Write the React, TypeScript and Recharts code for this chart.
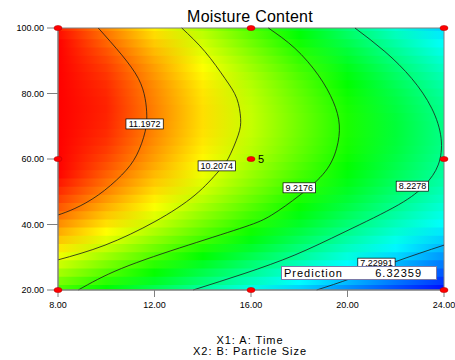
import { ComposedChart, XAxis, YAxis, Line, Scatter, ReferenceArea } from "recharts";

const FONT = "'Liberation Sans', Arial, sans-serif";

const TIME_TICKS = [8, 12, 16, 20, 24];
const SIZE_TICKS = [20, 40, 60, 80, 100];

// moisture content: one row per particle size, one column per time
const GRID_TIME = [8, 10, 12, 14, 16, 18, 20, 22, 24];
const GRID_SIZE = [
  100, 97.5, 95, 92.5, 90, 87.5, 85, 82.5, 80, 77.5, 75, 72.5, 70, 67.5, 65, 62.5, 60,
  57.5, 55, 52.5, 50, 47.5, 45, 42.5, 40, 37.5, 35, 32.5, 30, 27.5, 25, 22.5, 20,
];
const GRID_MOISTURE = [
  [11.71, 11.11, 10.52, 9.95, 9.39, 8.84, 8.31, 7.79, 7.29],
  [11.81, 11.22, 10.63, 10.07, 9.51, 8.97, 8.44, 7.93, 7.43],
  [11.9, 11.31, 10.73, 10.17, 9.62, 9.08, 8.56, 8.05, 7.56],
  [11.98, 11.4, 10.82, 10.26, 9.72, 9.19, 8.67, 8.16, 7.67],
  [12.05, 11.47, 10.9, 10.35, 9.81, 9.28, 8.76, 8.26, 7.78],
  [12.11, 11.53, 10.97, 10.42, 9.88, 9.36, 8.85, 8.35, 7.87],
  [12.16, 11.58, 11.02, 10.48, 9.95, 9.43, 8.92, 8.43, 7.96],
  [12.19, 11.62, 11.07, 10.53, 10.0, 9.49, 8.99, 8.5, 8.03],
  [12.22, 11.65, 11.1, 10.57, 10.04, 9.53, 9.04, 8.56, 8.09],
  [12.23, 11.67, 11.12, 10.59, 10.07, 9.57, 9.08, 8.6, 8.14],
  [12.23, 11.68, 11.14, 10.61, 10.09, 9.59, 9.11, 8.63, 8.18],
  [12.22, 11.67, 11.14, 10.61, 10.1, 9.61, 9.13, 8.66, 8.2],
  [12.2, 11.66, 11.12, 10.61, 10.1, 9.61, 9.13, 8.67, 8.22],
  [12.17, 11.63, 11.1, 10.59, 10.09, 9.6, 9.13, 8.67, 8.22],
  [12.13, 11.59, 11.07, 10.56, 10.06, 9.58, 9.11, 8.66, 8.22],
  [12.08, 11.54, 11.02, 10.52, 10.03, 9.55, 9.09, 8.64, 8.2],
  [12.01, 11.48, 10.97, 10.47, 9.98, 9.51, 9.05, 8.6, 8.17],
  [11.93, 11.41, 10.9, 10.4, 9.92, 9.45, 9.0, 8.56, 8.13],
  [11.85, 11.33, 10.82, 10.33, 9.85, 9.39, 8.94, 8.5, 8.08],
  [11.75, 11.23, 10.73, 10.25, 9.77, 9.31, 8.87, 8.44, 8.02],
  [11.64, 11.13, 10.63, 10.15, 9.68, 9.23, 8.78, 8.36, 7.94],
  [11.52, 11.01, 10.52, 10.04, 9.58, 9.13, 8.69, 8.27, 7.86],
  [11.39, 10.88, 10.4, 9.92, 9.46, 9.02, 8.59, 8.17, 7.76],
  [11.24, 10.75, 10.26, 9.79, 9.34, 8.9, 8.47, 8.06, 7.66],
  [11.09, 10.6, 10.12, 9.65, 9.2, 8.77, 8.34, 7.93, 7.54],
  [10.92, 10.43, 9.96, 9.5, 9.06, 8.62, 8.2, 7.8, 7.41],
  [10.75, 10.26, 9.79, 9.34, 8.9, 8.47, 8.05, 7.65, 7.27],
  [10.56, 10.08, 9.61, 9.16, 8.73, 8.3, 7.89, 7.5, 7.12],
  [10.36, 9.88, 9.42, 8.98, 8.55, 8.13, 7.72, 7.33, 6.95],
  [10.15, 9.68, 9.22, 8.78, 8.35, 7.94, 7.54, 7.15, 6.78],
  [9.93, 9.46, 9.01, 8.57, 8.15, 7.74, 7.34, 6.96, 6.59],
  [9.69, 9.23, 8.79, 8.35, 7.94, 7.53, 7.14, 6.76, 6.4],
  [9.45, 8.99, 8.55, 8.12, 7.71, 7.31, 6.92, 6.55, 6.19],
];

// contour lines, [time, particle size]
const CONTOUR_11 = [
  [9.67, 100], [10.64, 91.8], [11.33, 84.6], [11.61, 78.5], [11.68, 73.4], [11.61, 68.3],
  [11.26, 61.2], [10.64, 55.1], [9.67, 49], [8.7, 44.9], [8, 42.9],
];
const CONTOUR_10 = [
  [13.13, 100], [14.09, 92.8], [14.92, 84.6], [15.41, 78.5], [15.57, 72.4], [15.47, 67.3],
  [15.06, 60.2], [14.64, 56.1], [13.68, 49], [12.02, 40.9], [9.95, 33.7], [8, 29.2],
];
const CONTOUR_9 = [
  [16.72, 100], [17.82, 93.8], [18.79, 85.6], [19.41, 77.5], [19.66, 70.4], [19.55, 63.3],
  [19.07, 56.1], [18.03, 49], [16.86, 42.9], [15.75, 39.3], [13.4, 33.7], [10.64, 26.6], [8.84, 20],
];
const CONTOUR_8 = [
  [20.31, 100], [21.55, 92.8], [22.66, 84.6], [23.49, 75.5], [23.88, 66.3], [23.76, 58.2],
  [23.21, 52.1], [22.11, 46], [19.9, 37.8], [17.82, 30.7], [15.75, 25.1], [13.6, 20],
];
const CONTOUR_7 = [[24, 33.7], [21.97, 28.6], [20.17, 23.6], [18.72, 20]];

const CONTOUR_LABELS = [
  { a: 11.59, b: 70.7, text: "11.1972" },
  { a: 14.58, b: 57.9, text: "10.2074" },
  { a: 18.0, b: 51.2, text: "9.2176" },
  { a: 22.69, b: 51.7, text: "8.2278" },
  { a: 21.2, b: 28.2, text: "7.22991" },
];

const DESIGN_TIME = [8, 8, 8, 16, 16, 16, 24, 24, 24];
const DESIGN_SIZE = [20, 60, 100, 20, 60, 100, 20, 60, 100];
const DESIGN_RUNS = [1, 1, 1, 1, 5, 1, 1, 1, 1];

const toPoints = (pts: number[][]) => pts.map(([a, b]) => ({ a, b }));
const contours = [CONTOUR_11, CONTOUR_10, CONTOUR_9, CONTOUR_8, CONTOUR_7].map(toPoints);
const design = DESIGN_TIME.map((a, i) => ({ a, b: DESIGN_SIZE[i], runs: DESIGN_RUNS[i] }));

// red (high) -> blue (low), same ramp as the software
function moistureColor(v: number) {
  const t = (11.87 - v) / (11.87 - 6.1);
  const hue = Math.max(0, Math.min(1, t)) * 240;
  return `hsl(${hue.toFixed(1)}, 100%, 50%)`;
}

function LabelBox(props: any) {
  const { cx, cy, payload } = props;
  const w = payload.text.length * 4.9 + 3;
  return (
    <g>
      <rect x={cx - w / 2} y={cy - 5} width={w} height={10} fill="#fff" stroke="#000" strokeWidth={0.7} />
      <text x={cx} y={cy + 3.3} textAnchor="middle" fontSize={9} fontFamily={FONT} fill="#000">
        {payload.text}
      </text>
    </g>
  );
}

function DesignDot(props: any) {
  const { cx, cy, payload } = props;
  return (
    <g>
      <ellipse cx={cx} cy={cy} rx={4} ry={2.6} fill="#ff0000" stroke="#b00000" strokeWidth={0.5} />
      {payload.runs > 1 && (
        <text x={cx + 7} y={cy + 4} fontSize={11} fontFamily={FONT} fill="#000">
          {payload.runs}
        </text>
      )}
    </g>
  );
}

export default function App() {
  const tick = { fontSize: 9, fill: "#000", fontFamily: FONT };
  return (
    <div style={{ position: "absolute", left: 0, top: 0, width: 455, height: 360, background: "#fff", fontFamily: FONT }}>
      <div style={{ position: "absolute", left: 0, width: 500, top: 9, textAlign: "center", fontSize: 16, lineHeight: "16px", letterSpacing: 0.25, color: "#000" }}>
        Moisture Content
      </div>
      <ComposedChart width={455} height={360} margin={{ top: 28, right: 11, bottom: 40, left: 0 }}>
        <defs>
          {GRID_MOISTURE.map((row, i) => (
            <linearGradient key={i} id={`row-${i}`} x1="0" y1="0" x2="1" y2="0">
              {row.map((v, j) => (
                <stop key={j} offset={`${((GRID_TIME[j] - 8) / 16) * 100}%`} stopColor={moistureColor(v)} />
              ))}
            </linearGradient>
          ))}
        </defs>
        <XAxis
          type="number"
          dataKey="a"
          domain={[8, 24]}
          ticks={TIME_TICKS}
          tickFormatter={(v) => v.toFixed(2)}
          tick={tick}
          tickSize={7}
          tickMargin={5}
          height={30}
          stroke="#808080"
        />
        <YAxis
          type="number"
          dataKey="b"
          domain={[20, 100]}
          ticks={SIZE_TICKS}
          tickFormatter={(v) => v.toFixed(2)}
          tick={tick}
          tickSize={11}
          tickMargin={3}
          width={58}
          stroke="#808080"
        />
        {GRID_SIZE.map((s, i) => (
          <ReferenceArea
            key={s}
            x1={8}
            x2={24}
            y1={Math.max(20, s - 1.55)}
            y2={Math.min(100, s + 1.55)}
            fill={`url(#row-${i})`}
            fillOpacity={1}
            stroke="none"
            ifOverflow="hidden"
          />
        ))}
        <ReferenceArea x1={8} x2={24} y1={20} y2={100} fill="none" stroke="#808080" strokeWidth={1} />
        {contours.map((pts, i) => (
          <Line
            key={i}
            data={pts}
            dataKey="b"
            type="natural"
            stroke="#1a1a1a"
            strokeWidth={0.8}
            dot={false}
            activeDot={false}
            isAnimationActive={false}
          />
        ))}
        <Scatter data={CONTOUR_LABELS} shape={LabelBox} isAnimationActive={false} />
        <Scatter data={design} shape={DesignDot} isAnimationActive={false} />
      </ComposedChart>
      <div
        style={{
          position: "absolute", left: 281, top: 266, width: 154, height: 12, background: "#fff",
          border: "1px solid #7a7aa8", fontSize: 11, lineHeight: "12px", letterSpacing: 1, color: "#000",
        }}
      >
        <span style={{ position: "absolute", left: 2, top: 0 }}>Prediction</span>
        <span style={{ position: "absolute", right: 14, top: 0 }}>6.32359</span>
      </div>
      <div style={{ position: "absolute", left: 0, width: 500, top: 335, textAlign: "center", fontSize: 11, lineHeight: "11px", letterSpacing: 1, color: "#000" }}>
        <div>X1: A: Time</div>
        <div>X2: B: Particle Size</div>
      </div>
    </div>
  );
}
